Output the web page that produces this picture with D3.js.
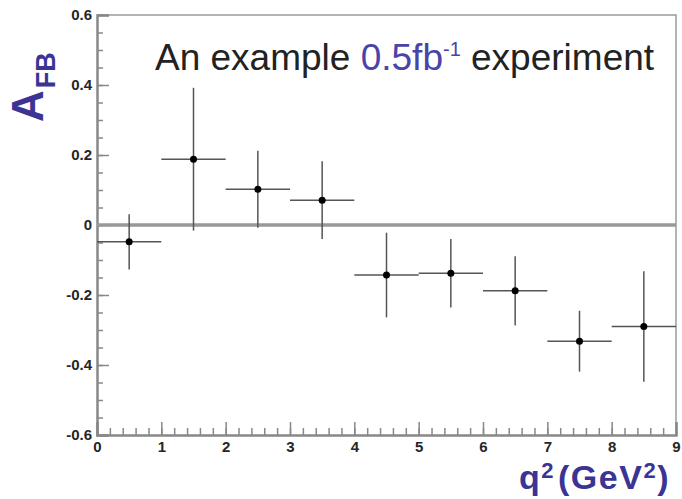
<!DOCTYPE html>
<html>
<head>
<meta charset="utf-8">
<script src="https://cdn.jsdelivr.net/npm/d3@7"></script>
<style>
  body { margin: 0; background: #fff; }
  svg { display: block; font-family: "Liberation Sans", Arial, sans-serif; }
  .tick text { font-weight: bold; fill: #262626; }
  .axtitle { fill: #3b3494; font-weight: bold; }
</style>
</head>
<body>
<div id="chart"></div>
<script>
// bin centres in q^2, measured A_FB and its error
var binCentre = [0.5, 1.5, 2.5, 3.5, 4.5, 5.5, 6.5, 7.5, 8.5];
var binHalf   = [0.5, 0.5, 0.5, 0.5, 0.5, 0.5, 0.5, 0.5, 0.5];
var afbValue  = [-0.048, 0.188, 0.102, 0.071, -0.143, -0.138, -0.188, -0.332, -0.290];
var afbError  = [0.079, 0.204, 0.110, 0.111, 0.121, 0.098, 0.099, 0.087, 0.158];

var xTicks = [0, 1, 2, 3, 4, 5, 6, 7, 8, 9];
var yTicks = [-0.6, -0.4, -0.2, 0, 0.2, 0.4, 0.6];

var width = 682, height = 499;
var margin = {top: 15, right: 6, bottom: 64, left: 97};

var svg = d3.select("#chart")
  .append("svg")
  .attr("width", width)
  .attr("height", height);

var x = d3.scaleLinear()
  .domain([0, 9])
  .range([margin.left, width - margin.right]);

var y = d3.scaleLinear()
  .domain([-0.6, 0.6])
  .range([height - margin.bottom, margin.top]);

// frame (top and right)
svg.append("path")
  .attr("d", "M" + x(0) + "," + y(0.6) + "H" + x(9) + "V" + y(-0.6))
  .attr("fill", "none")
  .attr("stroke", "#9a9a9a")
  .attr("stroke-width", 1.5);

// minor ticks
svg.append("g")
  .attr("transform", "translate(" + x(0) + ",0)")
  .call(d3.axisLeft(y).tickValues(d3.range(-12, 13).map(function(i) { return i * 0.05; }))
    .tickSize(-6).tickFormat(""))
  .call(function(g) { g.select(".domain").remove(); })
  .selectAll("line").attr("stroke", "#888").attr("stroke-width", 1.5);

svg.append("g")
  .attr("transform", "translate(0," + y(-0.6) + ")")
  .call(d3.axisBottom(x).tickValues(d3.range(0, 46).map(function(i) { return i * 0.2; }))
    .tickSize(-7).tickFormat(""))
  .call(function(g) { g.select(".domain").remove(); })
  .selectAll("line").attr("stroke", "#888").attr("stroke-width", 1.5);

// major ticks + labels
var yAxis = svg.append("g")
  .attr("transform", "translate(" + x(0) + ",0)")
  .call(d3.axisLeft(y).tickValues(yTicks).tickSize(-12).tickPadding(5)
    .tickFormat(function(d) { return d === 0 ? "0" : d.toFixed(1); }));
yAxis.selectAll("text").style("font-size", "15px");

var xAxis = svg.append("g")
  .attr("transform", "translate(0," + y(-0.6) + ")")
  .call(d3.axisBottom(x).tickValues(xTicks).tickSize(-13).tickPadding(6)
    .tickFormat(d3.format("d")));
xAxis.selectAll("text").style("font-size", "15px");

[yAxis, xAxis].forEach(function(g) {
  g.select(".domain").attr("stroke", "#888").attr("stroke-width", 2.5);
  g.selectAll("line").attr("stroke", "#888").attr("stroke-width", 1.5);
});

// zero line
svg.append("line")
  .attr("x1", x(0)).attr("x2", x(9))
  .attr("y1", y(0)).attr("y2", y(0))
  .attr("stroke", "#999")
  .attr("stroke-width", 3.5);

// error bars
var pts = binCentre.map(function(c, i) {
  return {c: c, h: binHalf[i], v: afbValue[i], e: afbError[i]};
});

var bars = svg.append("g").selectAll("g")
  .data(pts)
  .enter()
  .append("g");

bars.append("line")
  .attr("x1", function(d) { return x(d.c - d.h); })
  .attr("x2", function(d) { return x(d.c + d.h); })
  .attr("y1", function(d) { return y(d.v); })
  .attr("y2", function(d) { return y(d.v); })
  .attr("stroke", "#555").attr("stroke-width", 1.5);

bars.append("line")
  .attr("x1", function(d) { return x(d.c); })
  .attr("x2", function(d) { return x(d.c); })
  .attr("y1", function(d) { return y(d.v - d.e); })
  .attr("y2", function(d) { return y(d.v + d.e); })
  .attr("stroke", "#555").attr("stroke-width", 1.5);

bars.append("circle")
  .attr("cx", function(d) { return x(d.c); })
  .attr("cy", function(d) { return y(d.v); })
  .attr("r", 3.5)
  .attr("fill", "#000");

// legend text
var leg = svg.append("text")
  .attr("x", 155)
  .attr("y", 70)
  .style("font-size", "37px")
  .attr("fill", "#222");
leg.append("tspan").text("An example ");
leg.append("tspan").attr("fill", "#4a44a8").text("0.5fb");
leg.append("tspan").attr("fill", "#4a44a8").attr("dy", -14).style("font-size", "20px").text("-1");
leg.append("tspan").attr("dy", 14).text(" experiment");

// y axis title
var yt = svg.append("text")
  .attr("class", "axtitle")
  .attr("transform", "translate(43,122) rotate(-90)");
yt.append("tspan").style("font-size", "44px").text("A");
yt.append("tspan").style("font-size", "27px").attr("dx", 2).attr("dy", 12).text("FB");

// x axis title
var xt = svg.append("text")
  .attr("class", "axtitle")
  .attr("x", 519)
  .attr("y", 489)
  .style("font-size", "34px")
  .style("letter-spacing", "1.5px");
xt.append("tspan").text("q");
xt.append("tspan").attr("dy", -11).style("font-size", "22px").text("2");
xt.append("tspan").attr("dy", 11).attr("dx", 3).text("(GeV");
xt.append("tspan").attr("dy", -11).style("font-size", "22px").text("2");
xt.append("tspan").attr("dy", 11).text(")");
</script>
</body>
</html>
